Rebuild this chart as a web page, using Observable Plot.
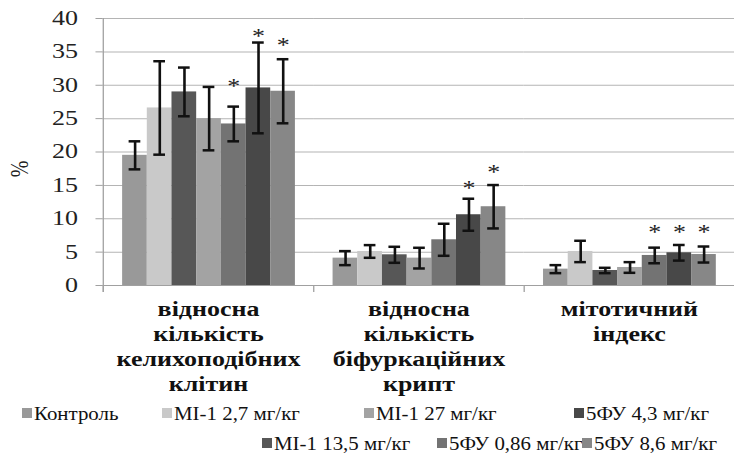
<!DOCTYPE html>
<html>
<head>
<meta charset="utf-8">
<script src="https://cdn.jsdelivr.net/npm/d3@7"></script>
<script src="https://cdn.jsdelivr.net/npm/@observablehq/plot@0.6"></script>
<style>
  html, body { margin: 0; padding: 0; background: #fff; }
  #wrap { position: relative; width: 734px; height: 457px; overflow: hidden; font-family: "Liberation Serif", "DejaVu Serif", serif; color: #111; }
  #legend { position: absolute; left: 0; top: 0; width: 734px; height: 457px; pointer-events: none; }
  .item { position: absolute; display: flex; align-items: center; white-space: nowrap; font-size: 19px; line-height: 1; }
  .sw { width: 10px; height: 10px; margin-right: 2px; flex: none; }
  .lab { display: inline-block; transform: scaleX(1.1); transform-origin: left center; }
</style>
</head>
<body>
<div id="wrap"><div id="chart"></div><div id="legend"></div></div>
<script>
// ---- data ----
const groups = [
  "відносна\nкількість\nкелихоподібних\nклітин",
  "відносна\nкількість\nбіфуркаційних\nкрипт",
  "мітотичний\nіндекс"
];
const series = ["Контроль", "MI-1 2,7 мг/кг", "MI-1 13,5 мг/кг", "MI-1 27 мг/кг", "5ФУ 0,86 мг/кг", "5ФУ 4,3 мг/кг", "5ФУ 8,6 мг/кг"];
const colors = ["#999999", "#c9c9c9", "#575757", "#a3a3a3", "#737373", "#484848", "#878787"];

const valuesGoblet  = [19.5, 26.6, 29.0, 25.0, 24.2, 29.6, 29.1];
const errorsGoblet  = [2.1, 7.0, 3.65, 4.75, 2.6, 6.8, 4.8];
const valuesBifurc  = [4.1, 5.1, 4.6, 4.1, 6.85, 10.6, 11.8];
const errorsBifurc  = [1.05, 0.95, 1.2, 1.55, 2.4, 2.4, 3.25];
const valuesMitotic = [2.45, 5.1, 2.25, 2.7, 4.5, 4.9, 4.64];
const errorsMitotic = [0.6, 1.6, 0.4, 0.8, 1.17, 1.17, 1.2];

// significance asterisks (vertical position in % units, null = none)
const starsGoblet  = [null, null, null, null, 30.5, 38.1, 36.7];
const starsBifurc  = [null, null, null, null, null, 15.3, 17.6];
const starsMitotic = [null, null, null, null, 8.6, 8.6, 8.6];

const yTicks = [0, 5, 10, 15, 20, 25, 30, 35, 40];

// legend layout: order as in the original legend
const legendRow1 = ["Контроль", "MI-1 2,7 мг/кг", "MI-1 27 мг/кг", "5ФУ 4,3 мг/кг"];
const legendRow2 = ["MI-1 13,5 мг/кг", "5ФУ 0,86 мг/кг", "5ФУ 8,6 мг/кг"];

// ---- table ----
const valueSets = [valuesGoblet, valuesBifurc, valuesMitotic];
const errorSets = [errorsGoblet, errorsBifurc, errorsMitotic];
const starSets = [starsGoblet, starsBifurc, starsMitotic];
const rows = groups.flatMap((g, gi) => series.map((s, si) => ({
  group: g, series: s, value: valueSets[gi][si], err: errorSets[gi][si], star: starSets[gi][si]
})));

const S = 1.3;               // horizontal stretch of the original picture
const W = Math.round(734 / S);
const H = 400;
const mTop = 18, mBottom = 115;
const plotH = H - mTop - mBottom;
const FONT = "'Liberation Serif', 'DejaVu Serif', serif";

const svg = Plot.plot({
  width: W, height: H,
  marginLeft: 79, marginRight: 0, marginTop: mTop, marginBottom: mBottom,
  style: { fontFamily: FONT, fontSize: "20px", color: "#111", background: "white" },
  fx: { domain: groups, padding: 0, label: null },
  x: { domain: series, paddingInner: 0, paddingOuter: 0.74, axis: null },
  y: { domain: [0, 40], label: null },
  color: { domain: series, range: colors },
  marks: [
    Plot.gridY(yTicks, { stroke: "#b4b4b4", strokeOpacity: 1 }),
    Plot.frame({ anchor: "left", facetAnchor: "left", insetBottom: -6, stroke: "#a0a0a0" }),
    Plot.frame({ anchor: "left", insetTop: plotH, insetBottom: -6, stroke: "#a0a0a0" }),
    Plot.barY(rows, { fx: "group", x: "series", y: "value", fill: "series" }),
    Plot.ruleY([0], { stroke: "#a0a0a0" }),
    Plot.ruleX(rows, { fx: "group", x: "series", y1: d => d.value - d.err, y2: d => d.value + d.err, stroke: "#111", strokeWidth: 2 }),
    Plot.tickY(rows, { fx: "group", x: "series", y: d => d.value - d.err, stroke: "#111", strokeWidth: 2.5, insetLeft: 5, insetRight: 5 }),
    Plot.tickY(rows, { fx: "group", x: "series", y: d => d.value + d.err, stroke: "#111", strokeWidth: 2.5, insetLeft: 5, insetRight: 5 }),
    Plot.text(rows.filter(d => d.star != null), { fx: "group", x: "series", y: "star", text: () => "*", fontSize: 20, fill: "#222", dy: 5 }),
    Plot.axisY(yTicks, { tickSize: 5.5, tickPadding: 14, fontSize: 20, stroke: "#a0a0a0", fill: "#222", label: null }),
    Plot.axisFx({ anchor: "bottom", tickSize: 0, tickPadding: 13, fontSize: 20, fontWeight: "bold", lineHeight: 1.25, fill: "#111", label: null }),
    Plot.text(["%"], { frameAnchor: "left", facetAnchor: "left", rotate: -90, textAnchor: "middle", lineAnchor: "middle", dx: -64, dy: 17, fontSize: 20, fill: "#222" })
  ]
});
svg.setAttribute("preserveAspectRatio", "none");
svg.setAttribute("width", 734);
svg.setAttribute("height", H);
svg.style.width = "734px";
svg.style.height = H + "px";
svg.style.maxWidth = "none";
document.getElementById("chart").appendChild(svg);

// ---- legend (HTML, below the SVG) ----
const legendPos1 = [{ x: 22, y: 413 }, { x: 162, y: 413 }, { x: 364, y: 413 }, { x: 574, y: 413 }];
const legendPos2 = [{ x: 262, y: 443 }, { x: 437, y: 443 }, { x: 582, y: 443 }];
const legend = document.getElementById("legend");
function addItem(name, pos) {
  const it = document.createElement("div");
  it.className = "item";
  it.style.left = pos.x + "px";
  it.style.top = (pos.y - 10) + "px";
  it.style.height = "20px";
  const sw = document.createElement("span");
  sw.className = "sw";
  sw.style.background = colors[series.indexOf(name)];
  const lab = document.createElement("span");
  lab.className = "lab";
  lab.textContent = name;
  it.appendChild(sw); it.appendChild(lab);
  legend.appendChild(it);
}
legendRow1.forEach((n, i) => addItem(n, legendPos1[i]));
legendRow2.forEach((n, i) => addItem(n, legendPos2[i]));
</script>
</body>
</html>
